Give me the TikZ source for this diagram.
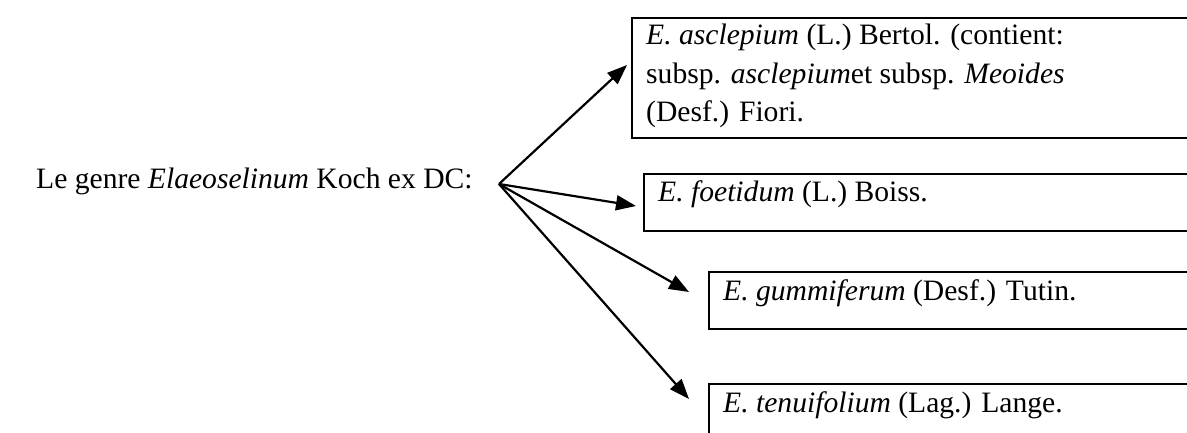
\documentclass[tikz,border=0pt]{standalone}
\usepackage{fontspec}
\setmainfont{Liberation Serif}
\usetikzlibrary{arrows.meta,calc}
\begin{document}
\begin{tikzpicture}[x=1pt,y=-1pt,
  every node/.style={font=\fontsize{29.6}{38.5}\selectfont, inner sep=0pt},
  box/.style={draw, line width=2.2pt, anchor=north west, minimum width=600pt},
  entry/.style={anchor=base west},
  branch/.style={line width=2.2pt, -{Triangle[length=20pt,width=15pt]}}]
  \useasboundingbox (0,0) rectangle (1187,433);
  \clip (0,0) rectangle (1187,433);

  % genus label and the point the branches leave from
  \node[anchor=base west] (genus) at (36,189) {Le genre \textit{Elaeoselinum} Koch ex DC:};
  \coordinate (o) at (499,184);

  % species boxes
  \node[box, minimum height=120pt] (b1) at (631,17) {};
  \node[box, minimum height=57pt]  (b2) at (643,173) {};
  \node[box, minimum height=57pt]  (b3) at (708,271) {};
  \node[box, minimum height=80pt]  (b4) at (708,383) {};

  \node[entry] (t1) at (646,45) {\begin{tabular}[t]{@{}l@{}}
    \textit{E. asclepium} (L.) Bertol. (contient:\\
    subsp. \textit{asclepium}et subsp. \textit{Meoides}\\
    (Desf.) Fiori.\end{tabular}};
  \node[entry] (t2) at (658,202) {\textit{E. foetidum} (L.) Boiss.};
  \node[entry] (t3) at (723,300) {\textit{E. gummiferum} (Desf.) Tutin.};
  \node[entry] (t4) at (723,412) {\textit{E. tenuifolium} (Lag.) Lange.};

  % arrow tips just short of each box
  \coordinate (a1) at (627,65);
  \coordinate (a2) at (636,206);
  \coordinate (a3) at (689,292);
  \coordinate (a4) at (689,399);

  \draw[branch] (o) -- (a1);
  \draw[branch] (o) -- (a2);
  \draw[branch] (o) -- (a3);
  \draw[branch] (o) -- (a4);
\end{tikzpicture}
\end{document}
